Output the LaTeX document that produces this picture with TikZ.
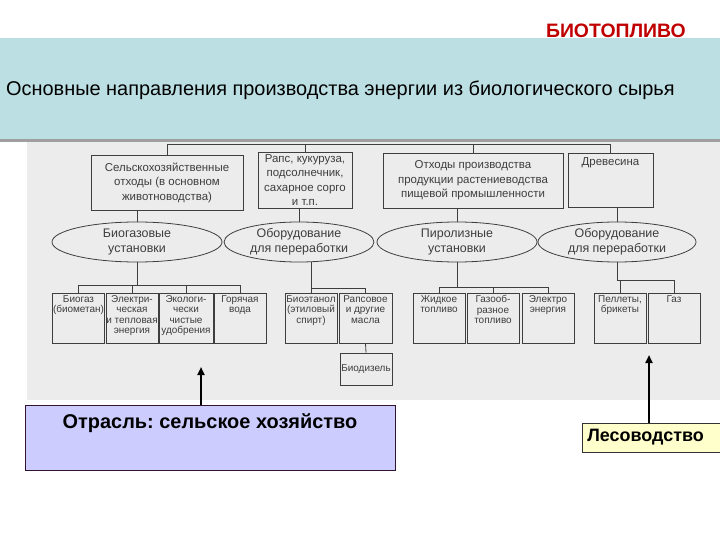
\documentclass[tikz,border=0pt]{standalone}
\usepackage{fontspec}
\setmainfont{Liberation Sans}
\usetikzlibrary{arrows.meta,shapes.geometric,positioning}
\frenchspacing
\definecolor{bandteal}{RGB}{188,223,227}
\definecolor{scangray}{RGB}{236,236,236}
\definecolor{titlered}{RGB}{192,0,0}
\definecolor{inkgray}{RGB}{62,62,62}
\definecolor{agrililac}{RGB}{204,204,255}
\definecolor{forestcream}{RGB}{255,255,204}
\tikzset{
  cell/.style={draw=inkgray, line width=0.8bp, rectangle, inner sep=1bp, text=inkgray, align=center},
  topcell/.style={cell, font=\fontsize{11.5}{14.5}\selectfont},
  lowcell/.style={cell, minimum width=52bp, minimum height=50bp,
    label={[text=inkgray, font=\fontsize{10}{10.5}\selectfont, align=center, inner sep=2.5bp, anchor=north]north:{#1}}},
  oval/.style={draw=inkgray, line width=0.8bp, ellipse, inner sep=0pt, minimum height=40bp,
    font=\fontsize{12.5}{15}\selectfont, text=inkgray, align=center},
  link/.style={inkgray, line width=0.8bp},
  pointer/.style={line width=2bp, -{Triangle[length=8bp,width=7bp]}},
}
\begin{document}
\begin{tikzpicture}[x=1bp, y=-1bp]
\useasboundingbox (0,0) rectangle (720,540);
\fill[white] (0,0) rectangle (720,540);
% scanned scheme background and slide band
\fill[scangray] (27,140) rectangle (720,400);
\fill[bandteal] (0,38) rectangle (720,140);
\fill[gray!75] (0,139) rectangle (720,142);
\node[anchor=east, font=\bfseries\fontsize{19.5}{22}\selectfont, text=titlered, inner sep=0pt] (title) at (686,31) {БИОТОПЛИВО};
\node[anchor=west, font=\fontsize{20}{23}\selectfont, inner sep=0pt] (heading) at (6,90) {Основные направления производства энергии из биологического сырья};
% raw material
\node[topcell, minimum width=152bp, minimum height=55bp] (b1) at (167,182.5) {Сельскохозяйственные\\отходы (в основном\\животноводства)};
\node[topcell, minimum width=94bp, minimum height=56bp] (b2) at (305,180) {Рапс, кукуруза,\\подсолнечник,\\сахарное сорго\\и т.п.};
\node[topcell, minimum width=180bp, minimum height=55bp] (b3) at (473,180.5) {Отходы производства\\продукции растениеводства\\пищевой промышленности};
\node[cell, minimum width=85bp, minimum height=54bp,
  label={[text=inkgray, font=\fontsize{11.5}{14.5}\selectfont, anchor=north, inner sep=5bp]north:Древесина}] (b4) at (610.5,180) {};
\coordinate (bus) at (0,144);
\draw[link] (b1.north) -- (b1.north |- bus) -- (b4.north |- bus) -- (b4.north);
\draw[link] (b2.north) -- (b2.north |- bus);
\draw[link] (b3.north) -- (b3.north |- bus);
% processing
\node[oval, minimum width=170bp] (e1) at (137,242) {Биогазовые\\установки};
\node[oval, minimum width=150bp] (e2) at (299,242) {Оборудование\\для переработки};
\node[oval, minimum width=160bp] (e3) at (457,242) {Пиролизные\\установки};
\node[oval, minimum width=158bp] (e4) at (617,242) {Оборудование\\для переработки};
\draw[link] (e1.north) -- (e1.north |- b1.south);
\draw[link] (e2.north) -- (e2.north |- b2.south);
\draw[link] (e3.north) -- (e3.north |- b3.south);
\draw[link] (e4.north) -- (e4.north |- b4.south);
% products
\node[lowcell={Биогаз\\(биометан)}] (ba) at (78.5,318) {};
\node[lowcell={Электри-\\ческая\\и тепловая\\энергия}] (bb) at (132,318) {};
\node[lowcell={Экологи-\\чески\\чистые\\удобрения}, minimum width=54bp] (bc) at (186,318) {};
\node[lowcell={Горячая\\вода}] (bd) at (240,318) {};
\node[lowcell={Биоэтанол\\(этиловый\\спирт)}] (be) at (311,318) {};
\node[lowcell={Рапсовое\\и другие\\масла}, minimum width=53bp] (bf) at (365.5,318) {};
\node[cell, minimum width=52bp, minimum height=32bp, font=\fontsize{10}{10.5}\selectfont] (bg) at (366,369) {Биодизель};
\node[lowcell={Жидкое\\топливо}] (bh) at (439,318) {};
\node[lowcell={Газооб-\\разное\\топливо}] (bi) at (493,318) {};
\node[lowcell={Электро\\энергия}] (bj) at (548,318) {};
\node[lowcell={Пеллеты,\\брикеты}] (bk) at (620,318) {};
\node[lowcell={Газ}] (bl) at (674,318) {};
\coordinate (fork1) at (0,285);
\coordinate (fork2) at (0,288);
\coordinate (fork3) at (0,287);
\coordinate (fork4) at (0,280);
\draw[link] (e1.south) -- (e1.south |- fork1);
\draw[link] (ba.north) -- (ba.north |- fork1) -- (bd.north |- fork1) -- (bd.north);
\foreach \c in {bb,bc} \draw[link] (\c.north) -- (\c.north |- fork1);
\draw[link] (be.north) -- (be.north |- e2.south);
\draw[link] (be.north |- fork2) -| (bf.north);
\draw[link] (bf.south) -- (bg.north);
\draw[link] (e3.south) -- (e3.south |- fork3);
\draw[link] (bh.north) -- (bh.north |- fork3) -- (bj.north |- fork3) -- (bj.north);
\draw[link] (bi.north) -- (bi.north |- fork3);
\draw[link] (e4.south) -- (e4.south |- fork4) -| (bl.north);
\draw[link] (bk.north) -- (bk.north |- fork4);
% branches
\node[draw={rgb,255:red,50;green,20;blue,50}, fill=agrililac, line width=0.8bp, minimum width=370bp, minimum height=65bp,
  label={[anchor=north, font=\bfseries\fontsize{20}{23}\selectfont, inner sep=0pt, yshift=-9bp]north:{Отрасль: сельское хозяйство}}] (agri) at (210,437.5) {};
\node[draw=black!80, fill=forestcream, line width=0.8bp, anchor=west, minimum height=29bp, text width=140bp, inner xsep=5bp,
  align=left, font=\bfseries\fontsize{18}{21}\selectfont] (forest) at (582,437.5) {Лесоводство};
\coordinate (tip1) at (201,367);
\coordinate (tip2) at (649,355);
\draw[pointer] (agri.north -| tip1) -- (tip1);
\draw[pointer] (forest.north -| tip2) -- (tip2);
\end{tikzpicture}
\end{document}
